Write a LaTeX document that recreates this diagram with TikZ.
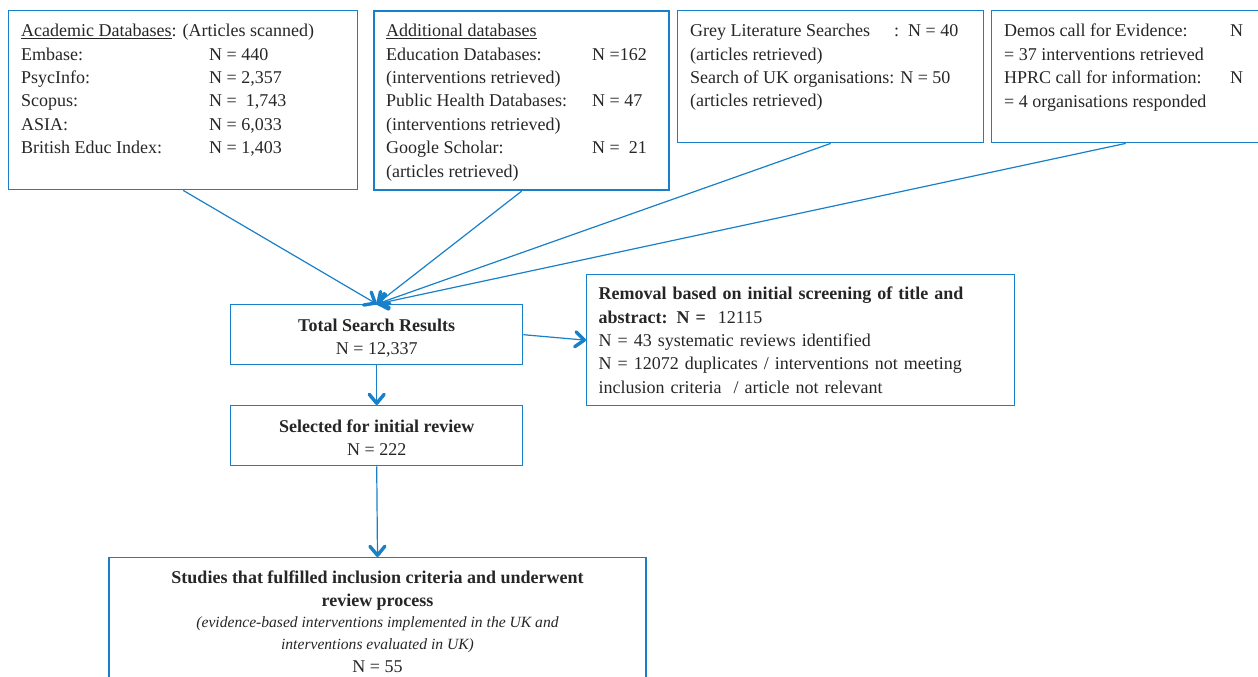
\documentclass[tikz,border=0pt]{standalone}
\usepackage{fontspec}
\setmainfont{Liberation Serif}
\usetikzlibrary{arrows.meta}
\definecolor{flowblue}{RGB}{24,128,200}
\newcommand{\dbrow}[3]{%
  \makebox[#1][l]{#2}#3%
}
\newcommand{\bodyfont}{\fontsize{18}{23.4}\selectfont}
\newcommand{\notefont}{\fontsize{15.6}{21}\selectfont\itshape}

\begin{document}
\begin{tikzpicture}[
    x=1pt, y=-1pt,
    every node/.style={inner sep=0pt, font=\bodyfont, text=black!85},
    box/.style={draw=flowblue, line width=1.4pt},
    txt/.style={anchor=north west, align=left},
    flow/.style={draw=flowblue, line width=1.2pt,
      -{Straight Barb[length=9pt,width=15pt,line width=3.4pt,round]}}
  ]
  \useasboundingbox (0,0) rectangle (1258,677);
  % source boxes along the top
  \node[box, anchor=north west, minimum width=349pt, minimum height=179pt] (acad) at (8,10) {};
  \node[box, line width=2.2pt, anchor=north west, minimum width=295pt, minimum height=179pt] (addl) at (373,10) {};
  \node[box, anchor=north west, minimum width=306pt, minimum height=132pt] (grey) at (677,10) {};
  \node[box, anchor=north west, minimum width=268pt, minimum height=132pt] (demos) at (991,10) {};
  \node[txt] (acadtxt) at ([shift={(13,14)}]acad.north west) {%
    \underline{Academic Databases}: (Articles scanned)\\
    \dbrow{188pt}{Embase:}{N = 440}\\
    \dbrow{188pt}{PsycInfo:}{N = 2,357}\\
    \dbrow{188pt}{Scopus:}{N =\ \ 1,743}\\
    \dbrow{188pt}{ASIA:}{N = 6,033}\\
    \dbrow{188pt}{British Educ Index:}{N = 1,403}};
  \node[txt] (addltxt) at ([shift={(13,14)}]addl.north west) {%
    \underline{Additional databases}\\
    \dbrow{206pt}{Education Databases:}{N =162}\\
    (interventions retrieved)\\
    \dbrow{206pt}{Public Health Databases:}{N = 47}\\
    (interventions retrieved)\\
    \dbrow{206pt}{Google Scholar:}{N =\ \ 21}\\
    (articles retrieved)};
  \node[txt] (greytxt) at ([shift={(13,14)}]grey.north west) {%
    \dbrow{204pt}{Grey Literature Searches}{:\hspace{9pt}N = 40}\\
    (articles retrieved)\\
    Search of UK organisations: N = 50\\
    (articles retrieved)};
  \node[txt] (demostxt) at ([shift={(13,14)}]demos.north west) {%
    \dbrow{226pt}{Demos call for Evidence:}{N}\\
    = 37 interventions retrieved\\
    \dbrow{226pt}{HPRC call for information:}{N}\\
    = 4 organisations responded};
  % screening steps
  \node[box, anchor=north west, minimum width=292pt, minimum height=60pt, align=center] (total) at (230,304)
    {\rule{0pt}{19pt}\textbf{Total Search Results}\\N = 12,337};
  \node[box, anchor=north west, minimum width=428pt, minimum height=131pt, text width=404pt, align=left] (removal) at (586,274)
    {\textbf{Removal based on initial screening of title and}\\
     \textbf{abstract: N =}\ \ 12115\\
     N = 43 systematic reviews identified\\
     N = 12072 duplicates / interventions not meeting\\
     inclusion criteria\ \ / article not relevant};
  \node[box, anchor=north west, minimum width=292pt, minimum height=60pt, align=center] (selected) at (230,405)
    {\rule{0pt}{17pt}\textbf{Selected for initial review}\\N = 222};
  \node[box, anchor=north, minimum width=537pt, inner ysep=13pt, align=center] (studies) at (377.5,557)
    {\textbf{Studies that fulfilled inclusion criteria and underwent}\\
     \textbf{review process}\\[-3pt]
     {\notefont (evidence-based interventions implemented in the UK and}\\[-1pt]
     {\notefont interventions evaluated in UK)}\\
     N = 55};
  \draw[flow] (acad.south) -- (total.north);
  \draw[flow] (addl.south) -- (total.north);
  \draw[flow] (grey.south) -- (total.north);
  \draw[flow] (demos.south) -- (total.north);
  \draw[flow] (total.east) -- (removal.west);
  \draw[flow] (total.south) -- (selected.north);
  \draw[flow] (selected.south) -- (studies.north);
\end{tikzpicture}
\end{document}
